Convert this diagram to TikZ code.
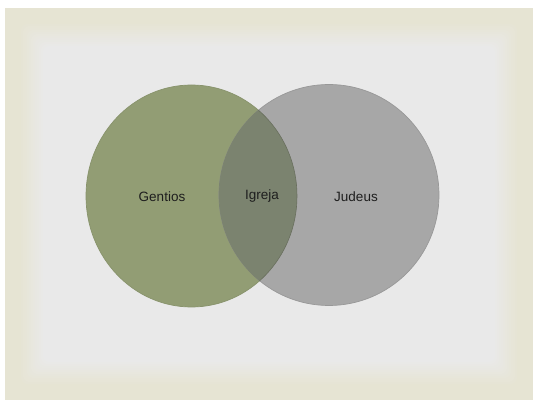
\documentclass[tikz,border=0pt]{standalone}
\usepackage{fontspec}
\setmainfont{Liberation Sans}
\usetikzlibrary{shapes.geometric}
\definecolor{bgC}{RGB}{230,228,211}
\definecolor{bgG}{RGB}{233,233,233}
\definecolor{gentC}{RGB}{146,157,116}
\definecolor{gentD}{RGB}{136,147,108}
\definecolor{judC}{RGB}{167,167,167}
\definecolor{judD}{RGB}{152,152,152}
\definecolor{igC}{RGB}{123,131,111}
\definecolor{txtC}{RGB}{30,30,30}
\tikzset{
  lbl/.style={font=\fontsize{13.5}{16}\selectfont, text=txtC, inner sep=0pt},
  setshape/.style={ellipse, inner sep=0pt, line width=0.7pt}
}
\begin{document}
\begin{tikzpicture}[x=1pt,y=1pt]
\useasboundingbox (0,0) rectangle (533,402);
\fill[white] (0,0) rectangle (533,402);
\fill[bgC] (5,2) rectangle (533,394);
\foreach \i in {0,...,12}{
  \pgfmathsetmacro{\ins}{14+2*\i}
  \pgfmathtruncatemacro{\p}{round(100*\i/12)}
  \fill[bgG!\p!bgC, rounded corners=6pt] (5+\ins,2+\ins) rectangle (533-\ins,394-\ins);
}
\node[setshape, fill=gentC, draw=gentD, minimum width=211pt, minimum height=222pt] (gentios) at (191.5,206) {};
\node[setshape, fill=judC, draw=judD, minimum width=220pt, minimum height=221pt] (judeus) at (329,207) {};
\begin{scope}
  \clip (191.5,206) ellipse [x radius=105.5, y radius=111];
  \fill[igC, draw=igC, line width=0.7pt] (329,207) ellipse [x radius=110, y radius=110.5];
\end{scope}
\begin{scope}
  \clip (329,207) ellipse [x radius=110, y radius=110.5];
  \draw[igC!85!black, line width=0.6pt] (191.5,206) ellipse [x radius=105.5, y radius=111];
\end{scope}
\node[lbl] (tg) at (162,205) {Gentios};
\node[lbl] (ti) at (262,206) {Igreja};
\node[lbl] (tj) at (356,205) {Judeus};
\end{tikzpicture}
\end{document}
